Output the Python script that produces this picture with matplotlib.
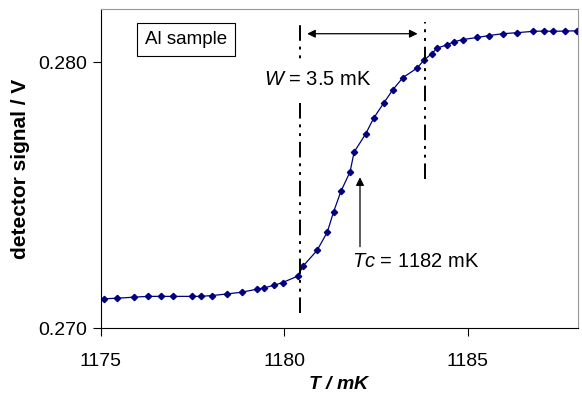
import matplotlib
matplotlib.use("Agg")
import matplotlib.pyplot as plt

plt.rcParams['font.family'] = ['Liberation Sans', 'DejaVu Sans']
plt.rcParams['mathtext.fontset'] = 'custom'
plt.rcParams['mathtext.rm'] = 'Liberation Sans'
plt.rcParams['mathtext.it'] = 'Liberation Sans:italic'
plt.rcParams['mathtext.bf'] = 'Liberation Sans:bold:italic'

# temperature (mK) and detector signal (V)
temp = [1175.08, 1175.44, 1175.90, 1176.29, 1176.63, 1176.97, 1177.49, 1177.72,
        1178.02, 1178.43, 1178.85, 1179.25, 1179.45, 1179.72, 1179.95, 1180.36,
        1180.51, 1180.89, 1181.17, 1181.34, 1181.54, 1181.79, 1181.90, 1182.21,
        1182.44, 1182.71, 1182.96, 1183.23, 1183.62, 1183.81, 1184.02, 1184.16,
        1184.43, 1184.61, 1184.86, 1185.26, 1185.57, 1185.95, 1186.35, 1186.78,
        1187.08, 1187.31, 1187.66, 1187.98]
signal = [0.27110, 0.27112, 0.27116, 0.27119, 0.27119, 0.27119, 0.27119, 0.27119,
          0.27122, 0.27128, 0.27135, 0.27146, 0.27151, 0.27161, 0.27171, 0.27195,
          0.27233, 0.27292, 0.27361, 0.27437, 0.27514, 0.27588, 0.27662, 0.27729,
          0.27791, 0.27847, 0.27897, 0.27942, 0.27978, 0.28009, 0.28032, 0.28053,
          0.28065, 0.28076, 0.28085, 0.28093, 0.28100, 0.28107, 0.28111, 0.28116,
          0.28117, 0.28116, 0.28117, 0.28118]

# transition markers
t_start = 1180.42
t_end = 1183.83
tc = 1182.06

fig = plt.figure(figsize=(5.82, 4.0), dpi=100)
ax = fig.add_axes([0.1735, 0.18, 0.8195, 0.7975])

ax.plot(temp, signal, color='#000080', linewidth=0.9, marker='D', markersize=3.2)

dash = (0, (8, 3, 1.5, 3, 1.5, 3))
ax.plot([t_start, t_start], [0.27057, 0.28152], color='black', linewidth=1.4, linestyle=dash)
ax.plot([t_end, t_end], [0.27559, 0.28152], color='black', linewidth=1.4, linestyle=dash)

ax.annotate('', xy=(t_start + 0.2, 0.28107), xytext=(t_end - 0.2, 0.28107),
            arrowprops=dict(arrowstyle='<|-|>', color='black', lw=0.9,
                            mutation_scale=12, shrinkA=0, shrinkB=0))
ax.annotate('', xy=(tc, 0.27567), xytext=(tc, 0.27306),
            arrowprops=dict(arrowstyle='-|>', color='black', lw=0.9,
                            mutation_scale=12, shrinkA=0, shrinkB=0))

ax.text(1179.44, 0.27933, r'$W$ = 3.5 mK', fontsize=14.5, va='center', ha='left',
        bbox=dict(facecolor='white', edgecolor='none', pad=6))
ax.text(1181.84, 0.27249, r'$Tc$ = 1182 mK', fontsize=14.5, va='center', ha='left')
ax.text(1177.32, 0.28086, 'Al sample', fontsize=13.5, va='center', ha='center',
        bbox=dict(facecolor='white', edgecolor='black', linewidth=0.8, pad=6))

ax.set_xlim(1175, 1188)
ax.set_ylim(0.270, 0.282)
ax.set_xticks([1175, 1180, 1185])
ax.set_yticks([0.270, 0.280])
ax.set_yticklabels(['0.270', '0.280'])
ax.tick_params(direction='out', length=6, width=0.8, labelsize=14, pad=4)
ax.tick_params(axis='x', pad=12)

ax.spines['top'].set_color('#999999')
ax.spines['right'].set_color('#999999')

ax.set_xlabel(r'$\mathbf{T}$ / $\mathbf{mK}$', fontsize=14, fontweight='bold',
              fontstyle='italic', labelpad=4)
ax.set_ylabel('detector signal / V', fontsize=15, fontweight='bold', labelpad=6)

fig.savefig('out.png', dpi=100)
